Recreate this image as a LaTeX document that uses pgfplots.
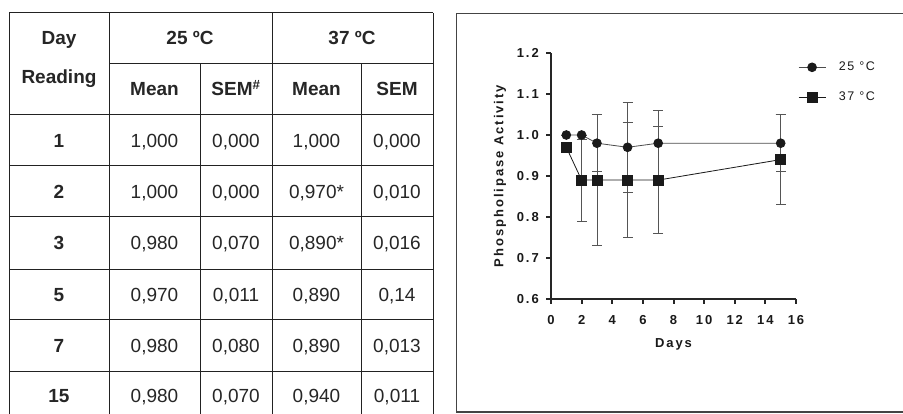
\documentclass[border=0pt]{standalone}
\usepackage{fontspec}
\usepackage{pgfplots}
\pgfplotsset{compat=1.18}
\usepackage{pgfplotstable}
\newfontfamily\tabfont{Liberation Sans}
\newfontfamily\chartfont[LetterSpace=12]{Liberation Sans}
\newfontfamily\chartbf[LetterSpace=15]{Liberation Sans Bold}
\definecolor{frame}{HTML}{444444}
\definecolor{tline}{HTML}{222222}
\definecolor{ebar}{HTML}{555555}
\definecolor{mk}{HTML}{1A1A1A}

\pgfplotstableread{
x y e
1 1.00 0
2 1.00 0
3 0.98 0.07
5 0.97 0.11
7 0.98 0.08
15 0.98 0.07
}\tempA
\pgfplotstableread{
x y e
1 0.97 0
2 0.89 0.10
3 0.89 0.16
5 0.89 0.14
7 0.89 0.13
15 0.94 0.11
}\tempB

\begin{document}
\begin{tikzpicture}
\useasboundingbox (0pt,0pt) rectangle (903pt,414pt);
% ---------- table (pixel coords: y_tikz = 414 - y_px) ----------
\begin{scope}[line width=1pt, tline]
\draw (9pt,401pt) -- (433pt,401pt);      % y=13
\draw (109pt,350pt) -- (433pt,350pt);    % y=64
\draw (9pt,299pt) -- (433pt,299pt);      % y=115
\draw (9pt,248pt) -- (433pt,248pt);      % y=166
\draw (9pt,197pt) -- (433pt,197pt);      % y=217
\draw (9pt,144pt) -- (433pt,144pt);      % y=270
\draw (9pt,94pt) -- (433pt,94pt);        % y=320
\draw (9pt,42pt) -- (433pt,42pt);        % y=372
\draw (9pt,401pt) -- (9pt,0pt);
\draw (109pt,401pt) -- (109pt,0pt);
\draw (200pt,350pt) -- (200pt,0pt);
\draw (272pt,401pt) -- (272pt,0pt);
\draw (361pt,350pt) -- (361pt,0pt);
\draw (433pt,401pt) -- (433pt,0pt);
\end{scope}
\begin{scope}[every node/.style={font=\tabfont\fontsize{19}{22}\selectfont, inner sep=0pt, anchor=center, text height=13.6pt, text depth=0pt, black!85}]
\node[font=\tabfont\bfseries\fontsize{19}{22}\selectfont] at (59pt,376pt) {Day};
\node[font=\tabfont\bfseries\fontsize{19}{22}\selectfont, text depth=4pt] at (59pt,335pt) {Reading};
\node[font=\tabfont\bfseries\fontsize{19}{22}\selectfont] at (190pt,376pt) {25 ºC};
\node[font=\tabfont\bfseries\fontsize{19}{22}\selectfont] at (352pt,376pt) {37 ºC};
\node[font=\tabfont\bfseries\fontsize{19}{22}\selectfont] at (154.5pt,325pt) {Mean};
\node[font=\tabfont\bfseries\fontsize{19}{22}\selectfont] at (236pt,325pt) {SEM\textsuperscript{\#}};
\node[font=\tabfont\bfseries\fontsize{19}{22}\selectfont] at (316.5pt,325pt) {Mean};
\node[font=\tabfont\bfseries\fontsize{19}{22}\selectfont] at (397pt,325pt) {SEM};
% rows
\foreach \yy/\d/\a/\b/\c/\e in {273.5/1/{1,000}/{0,000}/{1,000}/{0,000},
  222.5/2/{1,000}/{0,000}/{0,970*}/{0,010},
  171/3/{0,980}/{0,070}/{0,890*}/{0,016},
  119/5/{0,970}/{0,011}/{0,890}/{0,14},
  68/7/{0,980}/{0,080}/{0,890}/{0,013},
  18/15/{0,980}/{0,070}/{0,940}/{0,011}}{
  \node[font=\tabfont\bfseries\fontsize{19}{22}\selectfont] at (59pt,\yy pt) {\d};
  \node at (154.5pt,\yy pt) {\a};
  \node at (236pt,\yy pt) {\b};
  \node at (316.5pt,\yy pt) {\c};
  \node at (397pt,\yy pt) {\e};
}
\end{scope}
% ---------- chart frame ----------
\draw[frame, line width=1.8pt] (906pt,400.5pt) -- (456.5pt,400.5pt) -- (456.5pt,2pt) -- (906pt,2pt);
% ---------- chart ----------
\begin{axis}[
  at={(551pt,115pt)}, anchor=south west,
  scale only axis, width=245pt, height=246pt,
  xmin=0, xmax=16, ymin=0.6, ymax=1.2,
  axis lines*=left,
  axis line style={-, line width=2pt, black!85},
  xtick={0,2,...,16}, ytick={0.6,0.7,0.8,0.9,1.0,1.1,1.2},
  tick align=outside, major tick length=5pt,
  every tick/.style={line width=2pt, black!85},
  /pgf/number format/assume math mode=true,
  yticklabel style={/pgf/number format/fixed, /pgf/number format/fixed zerofill, /pgf/number format/precision=1, xshift=-7pt},
  xticklabel style={/pgf/number format/fixed, yshift=-11.5pt},
  ticklabel style={font=\chartbf\fontsize{13}{15}\selectfont, black!90, text height=9.3pt, text depth=0pt, inner sep=0pt},
  xlabel={Days}, ylabel={Phospholipase Activity},
  label style={font=\chartbf\fontsize{13}{15}\selectfont, black!90},
  xlabel style={at={(axis description cs:0.5,-0.183)}, anchor=center},
  ylabel style={at={(axis description cs:-0.208,0.5)}, anchor=center, rotate=0},
  clip=false,
  legend style={at={(axis description cs:1.008,0.965)}, anchor=north west, draw=none, fill=none,
    inner sep=0pt, row sep=19pt, font=\chartfont\fontsize{12.5}{14}\selectfont,
    nodes={inner ysep=2pt, inner xsep=13pt, text height=7pt, text depth=0pt, black!90}},
  legend cell align=left,
  legend image code/.code={\draw[mark repeat=2, mark phase=2, #1] plot coordinates {(0pt,0pt) (13.5pt,0pt) (27pt,0pt)};},
]
\addplot[black!70, line width=0.8pt, mark=*, mark size=4.4pt, mark options={fill=mk, draw=mk},
  error bars/.cd, y dir=both, y explicit,
  error bar style={ebar, line width=0.8pt},
  error mark options={rotate=90, ebar, mark size=5pt, line width=0.8pt}]
  table[x=x, y=y, y error=e] {\tempA};
\addlegendentry{25 °C}
\addplot[black!90, line width=0.8pt, mark=square*, mark size=5pt, mark options={fill=mk, draw=mk},
  error bars/.cd, y dir=both, y explicit,
  error bar style={ebar, line width=0.8pt},
  error mark options={rotate=90, ebar, mark size=5pt, line width=0.8pt}]
  table[x=x, y=y, y error=e] {\tempB};
\addlegendentry{37 °C}
\end{axis}
\end{tikzpicture}
\end{document}
